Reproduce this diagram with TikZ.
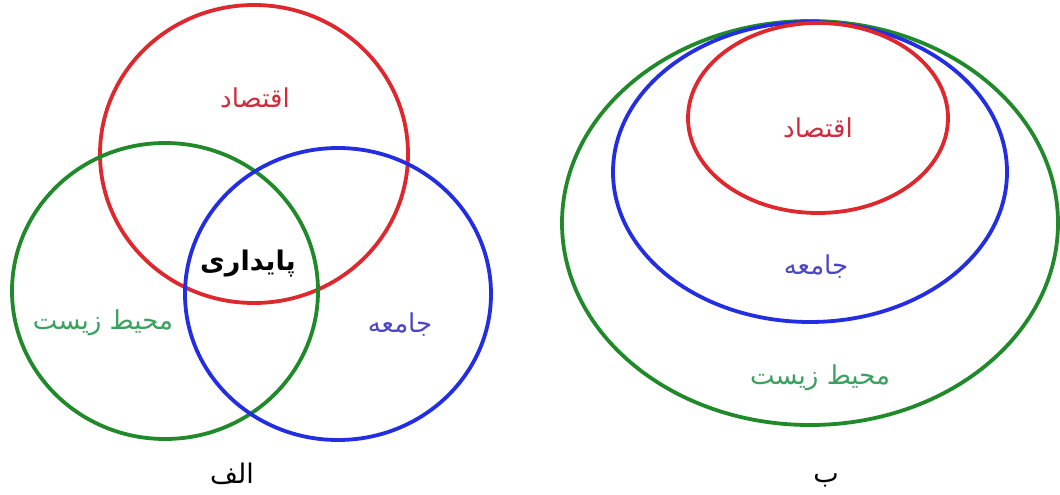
\documentclass[tikz,border=0pt]{standalone}
\usepackage{fontspec}
\newfontfamily\arabicfont[Script=Arabic]{DejaVu Sans}
\TeXXeTstate=1
\usetikzlibrary{positioning}
\definecolor{susRed}{RGB}{222,40,45}
\definecolor{susGreen}{RGB}{32,138,42}
\definecolor{susBlue}{RGB}{35,45,225}
\definecolor{susRedText}{RGB}{205,45,60}
\definecolor{susGreenText}{RGB}{60,160,95}
\definecolor{susBlueText}{RGB}{75,70,200}
\tikzset{
  susring/.style={
    line width=3.8pt
  },
  suslabel/.style={
    inner sep=1pt,
    font=\arabicfont\fontsize{26}{30}\selectfont
  },
  suscaption/.style={
    inner sep=1pt,
    font=\arabicfont\fontsize{27}{31}\selectfont
  }
}

\begin{document}
\begin{tikzpicture}[x=1pt, y=-1pt]
  \useasboundingbox[fill=white] (0,0) rectangle (1060,495);

  % left: three overlapping circles
  \draw[susring, draw=susRed]   (254,154) ellipse [x radius=154pt, y radius=149pt];
  \draw[susring, draw=susGreen] (165,291) ellipse [x radius=153pt, y radius=148pt];
  \draw[susring, draw=susBlue]  (338,294) ellipse [x radius=153pt, y radius=146pt];

  \node[suslabel, text=susRedText] (ecoA) at (255,98) {\beginR اقتصاد\endR};
  \node[suslabel, font=\arabicfont\bfseries\fontsize{27}{31}\selectfont] (susA) at (248,264) {\beginR پایداری\endR};
  \node[suslabel, text=susGreenText] (envA) at (103,323) {\beginR محیط زیست\endR};
  \node[suslabel, text=susBlueText] (socA) at (400,325) {\beginR جامعه\endR};
  \node[suscaption] (capA) at (232,474) {\beginR الف\endR};

  % right: nested ellipses
  \draw[susring, draw=susGreen] (810,223) ellipse [x radius=248pt, y radius=202pt];
  \draw[susring, draw=susBlue]  (810,172) ellipse [x radius=197pt, y radius=150pt];
  \draw[susring, draw=susRed]   (818,118) ellipse [x radius=130pt, y radius=95pt];

  \node[suslabel, text=susRedText] (ecoB) at (818,128) {\beginR اقتصاد\endR};
  \node[suslabel, text=susBlueText] (socB) at (816,267) {\beginR جامعه\endR};
  \node[suslabel, text=susGreenText] (envB) at (820,378) {\beginR محیط زیست\endR};
  \node[suscaption] (capB) at (826,480) {\beginR ب\endR};
\end{tikzpicture}
\end{document}
